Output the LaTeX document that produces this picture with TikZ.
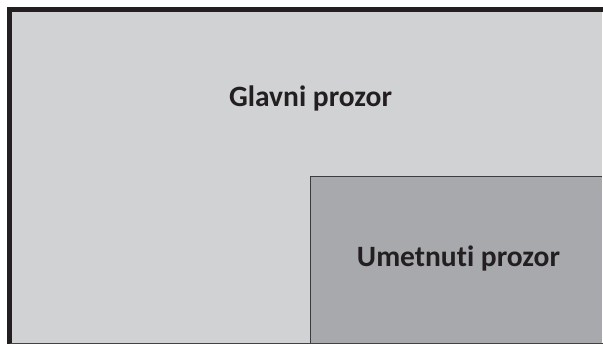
\documentclass[tikz,border=0pt]{standalone}
\usepackage{fontspec}
\setmainfont{Carlito}[Ligatures={NoCommon}]
\definecolor{outerfill}{HTML}{D1D2D4}
\definecolor{innerfill}{HTML}{A7A9AC}
\definecolor{edgecol}{HTML}{231F20}
\definecolor{inneredge}{HTML}{3C3B3D}
\tikzset{
  label text/.style={font=\fontsize{29.5}{34}\selectfont\bfseries, text=edgecol, inner sep=0pt, anchor=base}
}
\begin{document}
\begin{tikzpicture}[x=1pt,y=-1pt]
\useasboundingbox (0,0) rectangle (603,344);
\clip (0,0) rectangle (603,344);
\fill[white] (0,0) rectangle (603,344);
% main window
\fill[outerfill] (9.5,9.5) rectangle (602,343);
\draw[edgecol, line width=5pt] (606,9.5) -- (9.5,9.5) -- (9.5,350);
\draw[edgecol!85, line width=1.2pt] (9.5,343.6) -- (606,343.6);
% inset window
\fill[innerfill] (310.7,176.7) rectangle (602,343);
\draw[inneredge, line width=1.4pt] (310.7,343) -- (310.7,176.7) -- (602,176.7);
% labels
\node[label text] (main) at (310.5,106.7) {Glavni prozor};
\node[label text] (inset) at (458.5,267) {Umetnuti prozor};
\end{tikzpicture}
\end{document}
